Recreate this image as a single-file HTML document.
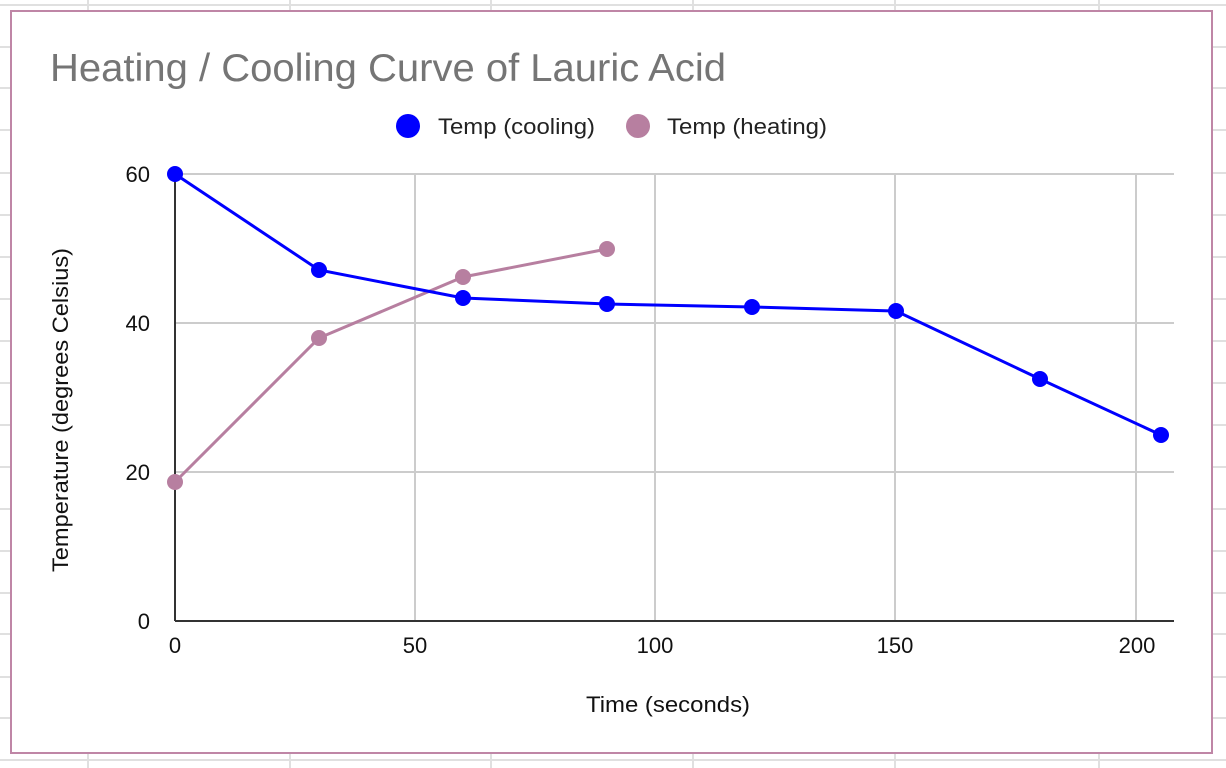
<!DOCTYPE html>
<html><head><meta charset="utf-8"><style>
html,body{margin:0;padding:0;background:#fff;}
svg{display:block;font-family:"Liberation Sans",Arial,sans-serif;}
</style></head><body>
<svg width="1226" height="768" viewBox="0 0 1226 768" xmlns="http://www.w3.org/2000/svg">
<g stroke="#e0e0e0" stroke-width="2">
<line x1="0" y1="5" x2="1226" y2="5"/><line x1="0" y1="47" x2="1226" y2="47"/><line x1="0" y1="88" x2="1226" y2="88"/><line x1="0" y1="130" x2="1226" y2="130"/><line x1="0" y1="173" x2="1226" y2="173"/><line x1="0" y1="215" x2="1226" y2="215"/><line x1="0" y1="257" x2="1226" y2="257"/><line x1="0" y1="299" x2="1226" y2="299"/><line x1="0" y1="341" x2="1226" y2="341"/><line x1="0" y1="383" x2="1226" y2="383"/><line x1="0" y1="425" x2="1226" y2="425"/><line x1="0" y1="467" x2="1226" y2="467"/><line x1="0" y1="509" x2="1226" y2="509"/><line x1="0" y1="551" x2="1226" y2="551"/><line x1="0" y1="593" x2="1226" y2="593"/><line x1="0" y1="634" x2="1226" y2="634"/><line x1="0" y1="677" x2="1226" y2="677"/><line x1="0" y1="718" x2="1226" y2="718"/><line x1="0" y1="760" x2="1226" y2="760"/>
<line x1="88" y1="0" x2="88" y2="768"/><line x1="290" y1="0" x2="290" y2="768"/><line x1="491" y1="0" x2="491" y2="768"/><line x1="693" y1="0" x2="693" y2="768"/><line x1="895" y1="0" x2="895" y2="768"/><line x1="1099" y1="0" x2="1099" y2="768"/>
</g>
<rect x="11" y="11" width="1201" height="742" fill="#fff" stroke="#bf86a6" stroke-width="2"/>
<text x="50" y="81" font-size="39" fill="#757575" textLength="676" lengthAdjust="spacingAndGlyphs">Heating / Cooling Curve of Lauric Acid</text>
<circle cx="408" cy="126" r="12" fill="#0000ff"/>
<text x="438" y="134" font-size="22" fill="#222" textLength="157" lengthAdjust="spacingAndGlyphs">Temp (cooling)</text>
<circle cx="638" cy="126" r="12" fill="#b77fa0"/>
<text x="667" y="134" font-size="22" fill="#222" textLength="160" lengthAdjust="spacingAndGlyphs">Temp (heating)</text>
<g stroke="#cccccc" stroke-width="2">
<line x1="175" y1="174" x2="1174" y2="174"/><line x1="175" y1="323" x2="1174" y2="323"/><line x1="175" y1="472" x2="1174" y2="472"/>
<line x1="415" y1="174" x2="415" y2="621"/><line x1="655" y1="174" x2="655" y2="621"/><line x1="895" y1="174" x2="895" y2="621"/><line x1="1136" y1="174" x2="1136" y2="621"/>
</g>
<line x1="175" y1="174" x2="175" y2="621" stroke="#333" stroke-width="2"/>
<line x1="175" y1="621" x2="1174" y2="621" stroke="#333" stroke-width="2"/>
<g font-size="22" fill="#111" text-anchor="end">
<text x="150" y="182">60</text><text x="150" y="331">40</text><text x="150" y="480">20</text><text x="150" y="629">0</text>
</g>
<g font-size="22" fill="#111">
<text x="175" y="653" text-anchor="middle">0</text><text x="415" y="653" text-anchor="middle">50</text><text x="655" y="653" text-anchor="middle">100</text><text x="895" y="653" text-anchor="middle">150</text><text x="1137" y="653" text-anchor="middle">200</text>
<text x="586" y="712" textLength="164" lengthAdjust="spacingAndGlyphs">Time (seconds)</text>
<text transform="translate(68 572) rotate(-90)" textLength="324" lengthAdjust="spacingAndGlyphs">Temperature (degrees Celsius)</text>
</g>
<polyline fill="none" stroke="#b77fa0" stroke-width="3" points="175,482 319,338 463,277 607,249"/>
<g fill="#b77fa0"><circle cx="175" cy="482" r="8"/><circle cx="319" cy="338" r="8"/><circle cx="463" cy="277" r="8"/><circle cx="607" cy="249" r="8"/></g>
<polyline fill="none" stroke="#0000ff" stroke-width="3" points="175,174 319,270 463,298 607,304 752,307 896,311 1040,379 1161,435"/>
<g fill="#0000ff"><circle cx="175" cy="174" r="8"/><circle cx="319" cy="270" r="8"/><circle cx="463" cy="298" r="8"/><circle cx="607" cy="304" r="8"/><circle cx="752" cy="307" r="8"/><circle cx="896" cy="311" r="8"/><circle cx="1040" cy="379" r="8"/><circle cx="1161" cy="435" r="8"/></g>
</svg>
</body></html>
